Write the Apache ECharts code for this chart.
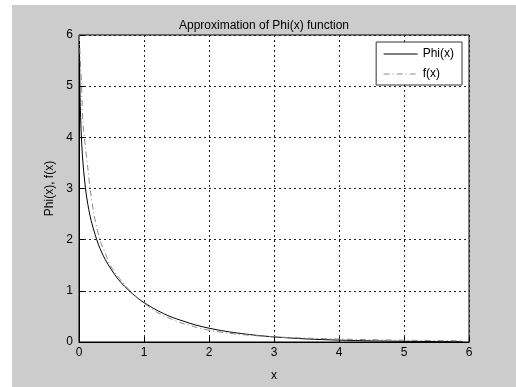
<!DOCTYPE html>
<html>
<head>
<meta charset="utf-8">
<script src="https://cdn.jsdelivr.net/npm/echarts@6/dist/echarts.min.js"></script>
<style>
html,body{margin:0;padding:0;background:#ffffff;}
#wrap{position:absolute;left:12px;top:5px;width:504px;height:382px;background:#cccccc;}
#chart{width:504px;height:382px;}
</style>
</head>
<body>
<div id="wrap"><div id="chart"></div></div>
<script>
// Data
const titleText = "Approximation of Phi(x) function";
const xTicks = [0, 1, 2, 3, 4, 5, 6];
const yTicks = [0, 1, 2, 3, 4, 5, 6];

const phiX = [0.005, 0.02, 0.05, 0.1, 0.15, 0.2, 0.3, 0.4, 0.5, 0.6, 0.7, 0.8, 0.9, 1.0, 1.2, 1.4, 1.6, 1.8, 2.0, 2.25, 2.5, 2.75, 3.0, 3.5, 4.0, 4.5, 5.0, 5.5, 5.9];
const phiY = [5.99, 4.6, 3.69, 3.0, 2.59, 2.31, 1.9, 1.62, 1.41, 1.23, 1.09, 0.97, 0.86, 0.77, 0.62, 0.5, 0.41, 0.33, 0.27, 0.21, 0.165, 0.128, 0.1, 0.06, 0.037, 0.022, 0.014, 0.008, 0.006];

const fX = [0.005, 0.02, 0.04, 0.06, 0.1, 0.14, 0.17, 0.23, 0.32, 0.4, 0.48, 0.6, 0.7, 0.8, 0.9, 1.0, 1.2, 1.4, 1.6, 1.8, 2.0, 2.25, 2.5, 2.75, 3.0, 3.5, 4.0, 4.5, 5.0, 5.5, 5.9];
const fY = [6.0, 5.5, 5.0, 4.3, 3.8, 3.35, 3.0, 2.5, 2.0, 1.75, 1.5, 1.28, 1.12, 0.98, 0.86, 0.76, 0.58, 0.46, 0.36, 0.29, 0.23, 0.18, 0.145, 0.12, 0.1, 0.075, 0.058, 0.045, 0.035, 0.028, 0.024];

const seriesNames = ["Phi(x)", "f(x)"];

const phiData = phiX.map((x, i) => [x, phiY[i]]);
const fData = fX.map((x, i) => [x, fY[i]]);

const chart = echarts.init(document.getElementById('chart'), null, {renderer: 'canvas'});
const font = 'Liberation Sans, Arial, sans-serif';

chart.setOption({
  backgroundColor: 'transparent',
  animation: false,
  title: {
    text: titleText,
    left: 'center',
    top: 10,
    textStyle: {fontFamily: font, fontSize: 12, fontWeight: 'normal', color: '#000'}
  },
  legend: {
    data: seriesNames,
    orient: 'vertical',
    right: 54,
    top: 37,
    backgroundColor: '#ffffff',
    borderColor: '#333333',
    borderWidth: 1,
    borderRadius: 0,
    padding: [6, 8, 5, 7],
    itemWidth: 34,
    itemHeight: 10,
    itemGap: 8,
    itemStyle: {color: 'transparent', borderWidth: 0, opacity: 0},
    lineStyle: {width: 1},
    textStyle: {fontFamily: font, fontSize: 12, color: '#000'}
  },
  grid: {
    left: 67, top: 30, width: 390, height: 314,
    show: true,
    backgroundColor: '#ffffff',
    borderColor: '#000000',
    borderWidth: 1,
    containLabel: false
  },
  xAxis: {
    type: 'value',
    min: xTicks[0], max: xTicks[xTicks.length - 1], interval: 1,
    name: 'x',
    nameLocation: 'middle',
    nameGap: 28,
    nameTextStyle: {fontFamily: font, fontSize: 12, color: '#000'},
    axisLine: {show: true, onZero: false, lineStyle: {color: '#000', width: 1}},
    axisTick: {show: true, inside: true, length: 5, lineStyle: {color: '#000'}},
    axisLabel: {fontFamily: font, fontSize: 12, color: '#000', margin: 5},
    splitLine: {show: true, lineStyle: {color: '#222', width: 1, type: [2, 3]}}
  },
  yAxis: {
    type: 'value',
    min: yTicks[0], max: yTicks[yTicks.length - 1], interval: 1,
    name: 'Phi(x), f(x)',
    nameLocation: 'middle',
    nameGap: 20,
    nameRotate: 90,
    nameTextStyle: {fontFamily: font, fontSize: 12, color: '#000'},
    axisLine: {show: true, onZero: false, lineStyle: {color: '#000', width: 1}},
    axisTick: {show: true, inside: true, length: 5, lineStyle: {color: '#000'}},
    axisLabel: {fontFamily: font, fontSize: 12, color: '#000', margin: 6},
    splitLine: {show: true, lineStyle: {color: '#222', width: 1, type: [2, 3]}}
  },
  series: [
    {
      name: seriesNames[0],
      type: 'line',
      data: phiData,
      smooth: 0.3,
      showSymbol: false,
      symbol: 'none',
      lineStyle: {color: '#000000', width: 1},
      itemStyle: {color: '#000000'}
    },
    {
      name: seriesNames[1],
      type: 'line',
      data: fData,
      smooth: 0.3,
      showSymbol: false,
      symbol: 'none',
      lineStyle: {color: '#8a8a8a', width: 1, type: [6, 3, 1, 3]},
      itemStyle: {color: '#8a8a8a'}
    }
  ]
});
</script>
</body>
</html>
